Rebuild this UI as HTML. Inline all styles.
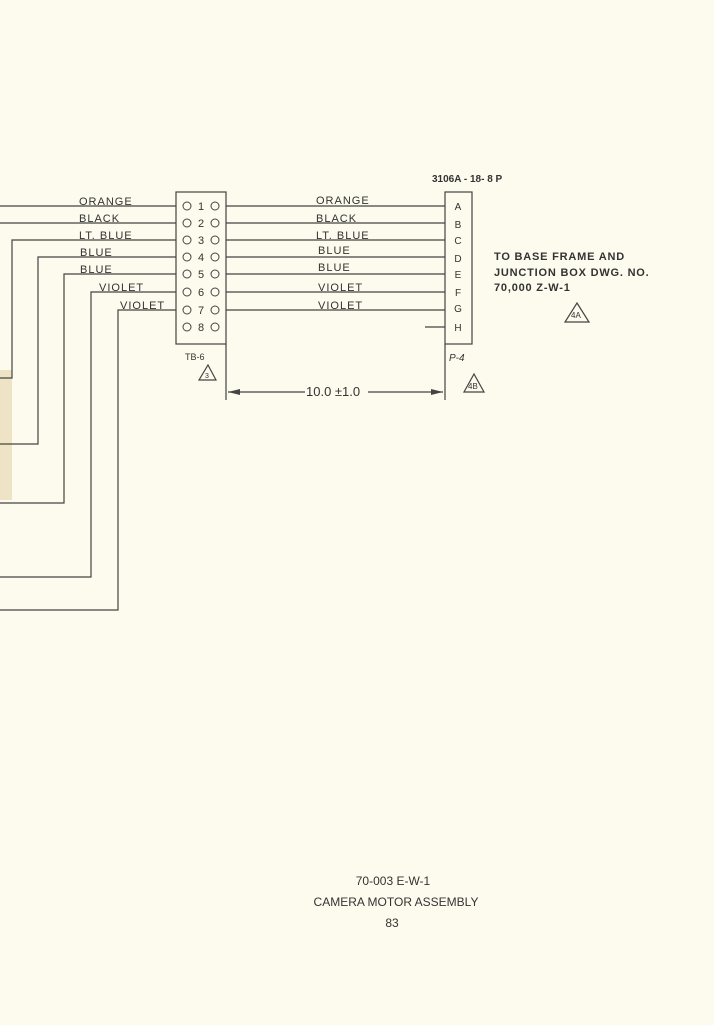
<!DOCTYPE html>
<html><head><style>
body{margin:0;background:#fcfbed;}
svg{display:block}
text{font-family:"Liberation Sans",sans-serif;fill:#333;}
</style></head><body>
<svg width="714" height="1025" viewBox="0 0 714 1025">
<rect width="714" height="1025" fill="#fcfbed"/>
<rect x="0" y="370" width="12" height="130" fill="#efe3c5"/>
<g stroke="#444" stroke-width="1.2" fill="none">
<rect x="176" y="192" width="50" height="152"/>
<rect x="445" y="192" width="27" height="152"/>
<line x1="0" y1="206" x2="176" y2="206"/>
<line x1="0" y1="223" x2="176" y2="223"/>
<polyline points="0,378 12,378 12,240 176,240"/>
<polyline points="0,444 38,444 38,257 176,257"/>
<polyline points="0,503 64,503 64,274 176,274"/>
<polyline points="0,577 91,577 91,292 176,292"/>
<polyline points="0,610 118,610 118,310 176,310"/>
<line x1="226" y1="206" x2="445" y2="206"/>
<line x1="226" y1="223" x2="445" y2="223"/>
<line x1="226" y1="240" x2="445" y2="240"/>
<line x1="226" y1="257" x2="445" y2="257"/>
<line x1="226" y1="274" x2="445" y2="274"/>
<line x1="226" y1="292" x2="445" y2="292"/>
<line x1="226" y1="310" x2="445" y2="310"/>
<line x1="425" y1="327" x2="445" y2="327"/>
<line x1="226" y1="344" x2="226" y2="400"/>
<line x1="445" y1="344" x2="445" y2="400"/>
<line x1="228" y1="392" x2="305" y2="392"/>
<line x1="368" y1="392" x2="443" y2="392"/>
<polygon points="208,365 216,380 199,380"/>
<polygon points="474,374 484,392 464,392"/>
<polygon points="577,303 589,322 565,322"/>
</g>
<polygon points="228,392 240,389 240,395" fill="#444"/>
<polygon points="443,392 431,389 431,395" fill="#444"/>
<g font-size="11">
<g fill="none" stroke="#444" stroke-width="1">
<circle cx="187" cy="206" r="4"/><circle cx="215" cy="206" r="4"/>
<circle cx="187" cy="223" r="4"/><circle cx="215" cy="223" r="4"/>
<circle cx="187" cy="240" r="4"/><circle cx="215" cy="240" r="4"/>
<circle cx="187" cy="257" r="4"/><circle cx="215" cy="257" r="4"/>
<circle cx="187" cy="274" r="4"/><circle cx="215" cy="274" r="4"/>
<circle cx="187" cy="292" r="4"/><circle cx="215" cy="292" r="4"/>
<circle cx="187" cy="310" r="4"/><circle cx="215" cy="310" r="4"/>
<circle cx="187" cy="327" r="4"/><circle cx="215" cy="327" r="4"/>
</g>
<text x="201" y="210" text-anchor="middle">1</text>
<text x="201" y="227" text-anchor="middle">2</text>
<text x="201" y="244" text-anchor="middle">3</text>
<text x="201" y="261" text-anchor="middle">4</text>
<text x="201" y="278" text-anchor="middle">5</text>
<text x="201" y="296" text-anchor="middle">6</text>
<text x="201" y="314" text-anchor="middle">7</text>
<text x="201" y="331" text-anchor="middle">8</text>
<g text-anchor="middle" font-size="10">
<text x="458" y="210">A</text><text x="458" y="228">B</text><text x="458" y="244">C</text>
<text x="458" y="262">D</text><text x="458" y="278">E</text><text x="458" y="296">F</text>
<text x="458" y="312">G</text><text x="458" y="331">H</text>
</g>
<g letter-spacing="1">
<text x="79" y="205">ORANGE</text>
<text x="79" y="222">BLACK</text>
<text x="79" y="239">LT. BLUE</text>
<text x="80" y="256">BLUE</text>
<text x="80" y="273">BLUE</text>
<text x="99" y="291">VIOLET</text>
<text x="120" y="309">VIOLET</text>
<text x="316" y="204">ORANGE</text>
<text x="316" y="222">BLACK</text>
<text x="316" y="239">LT. BLUE</text>
<text x="318" y="254">BLUE</text>
<text x="318" y="271">BLUE</text>
<text x="318" y="291">VIOLET</text>
<text x="318" y="309">VIOLET</text>
</g>
<text x="432" y="182" font-size="10" font-weight="bold">3106A - 18- 8 P</text>
<text x="185" y="360" font-size="9">TB-6</text>
<text x="205" y="378" font-size="7">3</text>
<text x="449" y="361" font-style="italic" font-size="10">P-4</text>
<text x="468" y="389" font-size="8">4B</text>
<text x="571" y="318" font-size="8">4A</text>
<text x="306" y="396" font-size="13">10.0 ±1.0</text>
<g font-size="11" font-weight="bold" letter-spacing="0.8">
<text x="494" y="260">TO BASE FRAME AND</text>
<text x="494" y="276">JUNCTION BOX DWG. NO.</text>
<text x="494" y="291">70,000 Z-W-1</text>
</g>
<g text-anchor="middle" font-size="12" fill="#333">
<text x="393" y="885">70-003 E-W-1</text>
<text x="396" y="906">CAMERA MOTOR ASSEMBLY</text>
<text x="392" y="927">83</text>
</g>
</g>
</svg>
</body></html>
